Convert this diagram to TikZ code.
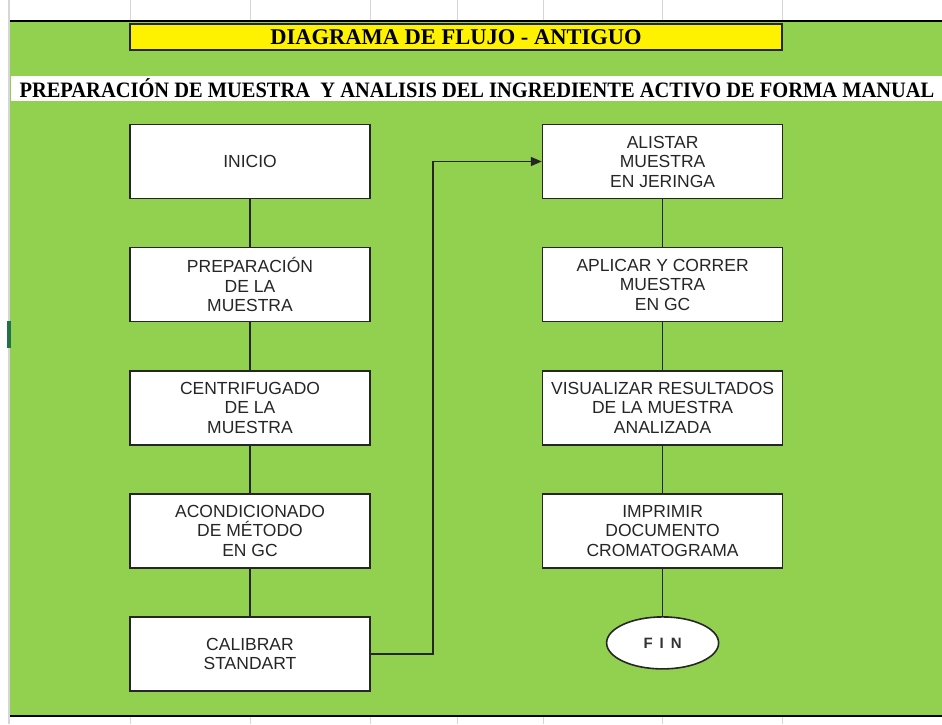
\documentclass[tikz,border=0pt]{standalone}
\usepackage{fontspec}
\setmainfont{Liberation Serif}
\setsansfont{Liberation Sans}
\usetikzlibrary{positioning,shapes.geometric,arrows.meta}
\definecolor{verdehoja}{RGB}{146,208,80}
\definecolor{rejilla}{RGB}{214,214,214}
\definecolor{verdesel}{RGB}{33,115,70}

\tikzset{
	caja/.style={draw=black!85,fill=white,line width=1.6pt,minimum width=240pt,minimum height=74pt,
		align=center,inner sep=2pt,text=black!85,font=\sffamily\fontsize{17.5}{19.5}\selectfont},
	cajafin/.style={ellipse,draw=black!85,fill=white,line width=1.6pt,minimum width=112pt,minimum height=52pt,
		inner sep=0pt,text=black!80,font=\sffamily\bfseries\fontsize{15}{18}\selectfont},
	union/.style={draw=black!85,line width=1.6pt},
}

\begin{document}
\begin{tikzpicture}[x=1pt,y=-1pt,node distance=47.5pt]
		\useasboundingbox (0,0) rectangle (942,724);
		\fill[white] (0,0) rectangle (942,724);
		% hoja
		\foreach \xc in {130,250,370,457,543,662,782} {
			\draw[rejilla,line width=0.8pt] (\xc,0) -- (\xc,20);
			\draw[rejilla,line width=0.8pt] (\xc,717) -- (\xc,724);
		}
		\draw[rejilla,line width=1.5pt] (9,0) -- (9,724);
		\fill[verdehoja] (10,21) rectangle (942,716);
		\draw[black,line width=2.5pt] (10,21) -- (942,21);
		\draw[black,line width=2.5pt] (10,716) -- (942,716);
		\fill[verdesel] (7,321) rectangle (11,348);
		%
		\node[draw=black!85,fill=yellow,line width=1.6pt,minimum width=652pt,minimum height=26pt,inner sep=0pt,
			font=\bfseries\fontsize{22.5}{22}\selectfont] (titulo) at (456,37) {DIAGRAMA DE FLUJO - ANTIGUO};
		\node[fill=white,minimum width=932pt,minimum height=25pt,inner sep=0pt,
			font=\bfseries\fontsize{22}{22}\selectfont] (subtitulo) at (477,88)
			{\scalebox{0.93}[1]{PREPARACIÓN DE MUESTRA \ Y ANALISIS DEL INGREDIENTE ACTIVO DE FORMA MANUAL}};
		%
		\node[caja] (inicio) at (250,161.5) {INICIO};
		\node[caja,below=of inicio] (preparacion) {PREPARACIÓN\\DE LA\\MUESTRA};
		\node[caja,below=of preparacion] (centrifugado) {CENTRIFUGADO\\DE LA\\MUESTRA};
		\node[caja,below=of centrifugado] (acondicionado) {ACONDICIONADO\\DE MÉTODO\\EN GC};
		\node[caja,below=of acondicionado] (calibrar) {CALIBRAR\\STANDART};
		\node[caja,right=171pt of inicio] (alistar) {ALISTAR\\MUESTRA\\EN JERINGA};
		\node[caja,below=of alistar] (aplicar) {APLICAR Y CORRER\\MUESTRA\\EN GC};
		\node[caja,below=of aplicar] (visualizar) {VISUALIZAR RESULTADOS\\DE LA MUESTRA\\ANALIZADA};
		\node[caja,below=of visualizar] (imprimir) {IMPRIMIR\\DOCUMENTO\\CROMATOGRAMA};
		\node[cajafin,below=of imprimir] (fin) {F\hspace{7pt}I\hspace{7pt}N};
		%
		\draw[union] (inicio) -- (preparacion);
		\draw[union] (preparacion) -- (centrifugado);
		\draw[union] (centrifugado) -- (acondicionado);
		\draw[union] (acondicionado) -- (calibrar);
		\draw[union] (alistar) -- (aplicar);
		\draw[union] (aplicar) -- (visualizar);
		\draw[union] (visualizar) -- (imprimir);
		\draw[union] (imprimir) -- (fin);
		\draw[union,-{Triangle[length=11pt,width=9pt]}] (calibrar.east) -- ++(62pt,0pt) |- (alistar.west);
\end{tikzpicture}
\end{document}
